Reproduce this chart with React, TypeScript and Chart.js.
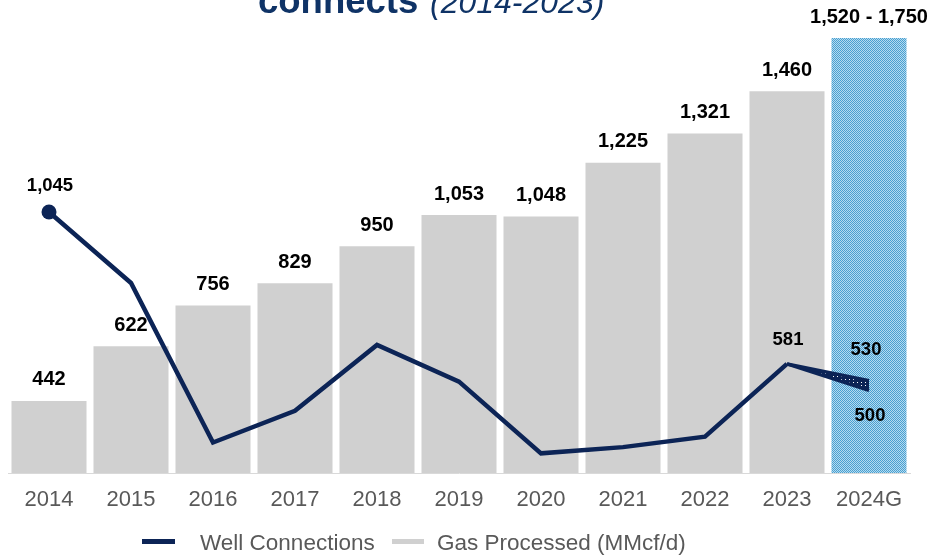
import React, { useEffect, useRef } from 'react';
import { Chart, registerables } from 'chart.js';

Chart.register(...registerables);

const years = ['2014', '2015', '2016', '2017', '2018', '2019', '2020', '2021', '2022', '2023', '2024G'];
const gasProcessed = [442, 622, 756, 829, 950, 1053, 1048, 1225, 1321, 1460];
const gasGuidance = [1520, 1750];
const wellConnections = [1045, 828, 341, 438, 639, 527, 308, 327, 359, 581];
const wellGuidance = [530, 500];
const titleBold = 'connects';
const titleItalic = '(2014-2023)';
const legendLabels = ['Well Connections', 'Gas Processed (MMcf/d)'];

const FONT = '"Liberation Sans", Arial, Helvetica, sans-serif';
const NAVY = '#0c2456';
const GRAY_BAR = '#d0d0d0';
const TEXT_GRAY = '#595959';

const fmt = (v: number) => v.toLocaleString('en-US');

function makeBluePattern(ctx: CanvasRenderingContext2D) {
  const c = document.createElement('canvas');
  c.width = 2;
  c.height = 2;
  const g = c.getContext('2d')!;
  g.fillStyle = '#4a9fd0';
  g.fillRect(0, 0, 2, 2);
  g.fillStyle = '#b4dbf0';
  g.fillRect(1, 0, 1, 1);
  g.fillRect(0, 1, 1, 1);
  return ctx.createPattern(c, 'repeat')!;
}

function makeWedgePattern(ctx: CanvasRenderingContext2D) {
  const c = document.createElement('canvas');
  c.width = 4;
  c.height = 3;
  const g = c.getContext('2d')!;
  g.fillStyle = NAVY;
  g.fillRect(0, 0, 4, 3);
  g.fillStyle = '#ffffff';
  g.fillRect(1, 1, 1, 1);
  return ctx.createPattern(c, 'repeat')!;
}

export default function App() {
  const ref = useRef<HTMLCanvasElement | null>(null);

  useEffect(() => {
    const canvas = ref.current;
    if (!canvas) return;
    const ctx = canvas.getContext('2d')!;
    const bluePattern = makeBluePattern(ctx);
    const wedgePattern = makeWedgePattern(ctx);

    const barData = [...gasProcessed, (gasGuidance[0] + gasGuidance[1]) / 2];
    const barLabels = [...gasProcessed.map(fmt), `${fmt(gasGuidance[0])} - ${fmt(gasGuidance[1])}`];
    const barColors = years.map((_, i) => (i === years.length - 1 ? bluePattern : GRAY_BAR));
    const last = wellConnections.length - 1;
    const lineData = years.map((_, i) => (i < wellConnections.length ? wellConnections[i] : null));
    const upper = years.map((_, i) => (i === last ? wellConnections[last] : i === last + 1 ? wellGuidance[0] : null));
    const lower = years.map((_, i) => (i === last ? wellConnections[last] : i === last + 1 ? wellGuidance[1] : null));

    const labelPlugin = {
      id: 'labels',
      afterDatasetsDraw(chart: any) {
        const c = chart.ctx as CanvasRenderingContext2D;
        c.save();
        c.textAlign = 'center';
        c.textBaseline = 'middle';
        c.fillStyle = '#000';
        c.font = `bold 20px ${FONT}`;
        const bars = chart.getDatasetMeta(0).data;
        bars.forEach((el: any, i: number) => {
          c.fillText(barLabels[i], el.x, el.y - 21);
        });
        c.font = `bold 18.5px ${FONT}`;
        const line = chart.getDatasetMeta(1).data;
        c.fillText(fmt(wellConnections[0]), line[0].x + 1, line[0].y - 26);
        c.fillText(fmt(wellConnections[last]), line[last].x + 1, line[last].y - 24);
        const up = chart.getDatasetMeta(2).data[last + 1];
        const lo = chart.getDatasetMeta(3).data[last + 1];
        c.fillText(fmt(wellGuidance[0]), up.x - 3, up.y - 31);
        c.fillText(fmt(wellGuidance[1]), lo.x + 1, lo.y + 25);
        c.restore();
      },
      afterDraw(chart: any) {
        const c = chart.ctx as CanvasRenderingContext2D;
        c.save();
        // title (cropped at top)
        c.textBaseline = 'alphabetic';
        c.textAlign = 'left';
        c.fillStyle = '#0f3366';
        c.font = `bold 36.5px ${FONT}`;
        c.fillText(titleBold, 258, 13);
        c.font = `italic 32px ${FONT}`;
        c.fillText(titleItalic, 430, 13);
        // legend
        c.textBaseline = 'middle';
        c.font = `22.5px ${FONT}`;
        c.fillStyle = NAVY;
        c.fillRect(142, 539, 33, 5);
        c.fillStyle = TEXT_GRAY;
        c.fillText(legendLabels[0], 200, 544);
        c.fillStyle = GRAY_BAR;
        c.fillRect(392, 539, 32, 5);
        c.fillStyle = TEXT_GRAY;
        c.fillText(legendLabels[1], 437, 544);
        c.restore();
      },
    };

    const chart = new Chart(canvas, {
      type: 'bar',
      data: {
        labels: years,
        datasets: [
          {
            type: 'bar',
            label: legendLabels[1],
            data: barData,
            backgroundColor: barColors as any,
            borderWidth: 0,
            categoryPercentage: 1,
            barPercentage: 0.915,
            yAxisID: 'y',
            order: 10,
          },
          {
            type: 'line',
            label: legendLabels[0],
            data: lineData,
            borderColor: NAVY,
            backgroundColor: NAVY,
            borderWidth: 4.5,
            pointRadius: years.map((_, i) => (i === 0 ? 7.5 : 0)),
            pointBackgroundColor: NAVY,
            pointBorderWidth: 0,
            tension: 0,
            fill: false,
            yAxisID: 'y2',
            order: 1,
          },
          {
            type: 'line',
            label: 'upper',
            data: upper,
            borderColor: NAVY,
            borderWidth: 3.5,
            pointRadius: 0,
            tension: 0,
            fill: false,
            yAxisID: 'y2',
            order: 2,
          },
          {
            type: 'line',
            label: 'lower',
            data: lower,
            borderColor: NAVY,
            borderWidth: 3.5,
            pointRadius: 0,
            tension: 0,
            fill: '-1',
            backgroundColor: wedgePattern as any,
            yAxisID: 'y2',
            order: 3,
          },
        ] as any,
      },
      options: {
        responsive: false,
        animation: false,
        layout: { padding: { left: 8, right: 20, top: 38, bottom: 0 } },
        plugins: {
          legend: { display: false },
          tooltip: { enabled: false },
          title: { display: false },
        },
        scales: {
          x: {
            grid: { display: false, drawTicks: false },
            border: { display: true, color: '#d9d9d9', width: 1 },
            ticks: { color: TEXT_GRAY, font: { family: FONT, size: 22 }, padding: 14 },
            afterFit: (s: any) => {
              s.height = 84;
            },
          },
          y: { display: false, min: 205, max: 1635 },
          y2: { display: false, min: 248, max: 1576 },
        },
      } as any,
      plugins: [labelPlugin],
    });

    return () => chart.destroy();
  }, []);

  return (
    <div style={{ position: 'absolute', left: 0, top: 0, width: 930, height: 557, background: '#fff' }}>
      <canvas ref={ref} width={930} height={557} style={{ display: 'block' }} />
    </div>
  );
}
